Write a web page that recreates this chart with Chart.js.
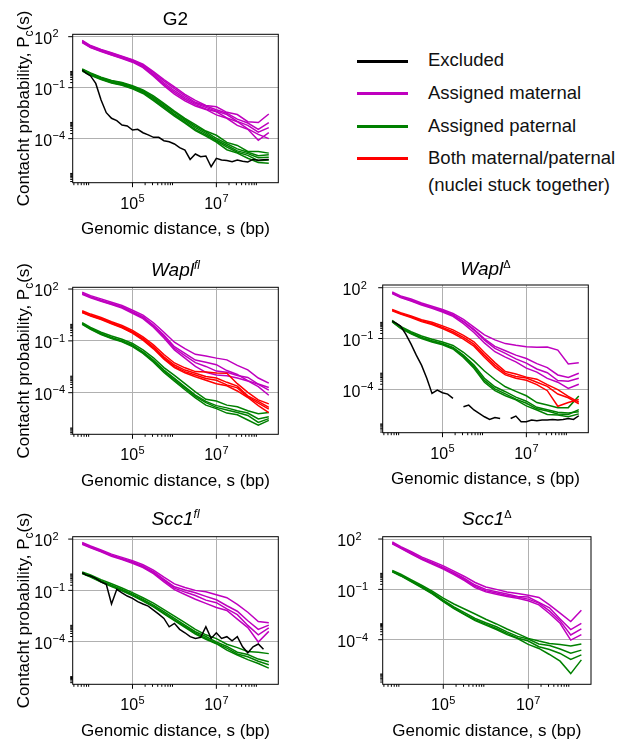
<!DOCTYPE html>
<html>
<head>
<meta charset="utf-8">
<title>Contact probability P(s)</title>
<script src="https://cdn.jsdelivr.net/npm/chart.js@4.4.1/dist/chart.umd.min.js"></script>
<style>
  body { margin: 0; background: #fff; font-family: "Liberation Sans", Arial, sans-serif; }
  #page { position: relative; width: 619px; height: 744px; overflow: hidden; }
  #page canvas { position: absolute; }
  .key { position: absolute; left: 357px; width: 51px; height: 3px; }
  .keytext { position: absolute; left: 428px; font-size: 18.5px; line-height: 20px; white-space: nowrap; color: #111; }
</style>
</head>
<body>
<div id="page">
  <canvas id="pG2" width="310" height="245" style="left:0px;top:0px"></canvas>
  <canvas id="pWaplFl" width="310" height="245" style="left:0px;top:250px"></canvas>
  <canvas id="pWaplD" width="309" height="245" style="left:310px;top:250px"></canvas>
  <canvas id="pScc1Fl" width="310" height="254" style="left:0px;top:490px"></canvas>
  <canvas id="pScc1D" width="309" height="254" style="left:310px;top:490px"></canvas>

  <div class="key" style="top:59.5px;background:#000000"></div>
  <div class="keytext" style="top:50.1px">Excluded</div>
  <div class="key" style="top:92.3px;background:#bf00bf"></div>
  <div class="keytext" style="top:82.9px">Assigned maternal</div>
  <div class="key" style="top:125.3px;background:#008000"></div>
  <div class="keytext" style="top:115.9px">Assigned paternal</div>
  <div class="key" style="top:157px;background:#ff0000"></div>
  <div class="keytext" style="top:147.6px">Both maternal/paternal</div>
  <div class="keytext" style="top:175.3px">(nuclei stuck together)</div>
</div>
<script>
// genomic distances s (bp) the curves were read at, quarter-decade steps
const distances = [6310, 10000, 17800, 31600, 56200, 100000, 178000, 316000, 562000,
  1000000, 1780000, 3160000, 5620000, 10000000, 17800000, 31600000, 56200000, 100000000, 178000000];
// the single "excluded" curves are noisier, read at eighth-decade steps
const distancesFine = [6310, 7940, 10000, 13300, 17800, 23700, 31600, 42200, 56200, 75000,
  100000, 133000, 178000, 237000, 316000, 422000, 562000, 750000,
  1000000, 1330000, 1780000, 2370000, 3160000, 4220000, 5620000, 7500000,
  10000000, 13300000, 17800000, 23700000, 31600000, 42200000, 56200000, 75000000,
  100000000, 133000000, 178000000];

// contact probability values, stored as log10 Pc(s)

// G2
const g2Excluded = [0.04, -0.16, -0.31, -0.75, -1.73, -2.47, -2.80, -2.94, -3.20, -3.25,
  -3.49, -3.45, -3.65, -3.78, -3.92, -3.92, -4.12, -4.18, -4.31, -4.53, -4.67, -5.22,
  -4.90, -5.06, -5.02, -5.65, -5.16, -5.25, -5.29, -5.35, -5.25, -5.33, -5.37, -5.22, -5.27, -5.24, -5.22];
const g2Maternal = [
  [1.78, 1.48, 1.25, 1.05, 0.85, 0.65, 0.38, -0.05, -0.52, -0.95, -1.40, -1.75, -2.05, -2.12, -2.45, -2.58, -3.00, -3.05, -2.55],
  [1.71, 1.41, 1.18, 0.98, 0.78, 0.57, 0.27, -0.20, -0.71, -1.18, -1.59, -1.92, -2.16, -2.38, -2.58, -2.98, -3.22, -3.62, -3.35],
  [1.65, 1.36, 1.12, 0.92, 0.72, 0.50, 0.18, -0.32, -0.88, -1.38, -1.78, -2.08, -2.28, -2.60, -2.80, -3.22, -3.45, -4.10, -3.65],
  [1.68, 1.38, 1.15, 0.94, 0.74, 0.53, 0.22, -0.27, -0.80, -1.28, -1.68, -2.00, -2.25, -2.42, -2.78, -3.00, -3.42, -3.75, -4.00],
  [1.75, 1.45, 1.22, 1.02, 0.82, 0.61, 0.32, -0.12, -0.60, -1.06, -1.48, -1.86, -2.08, -2.30, -2.50, -2.85, -3.08, -3.45, -3.05]
];
const g2Paternal = [
  [0.10, -0.13, -0.38, -0.57, -0.70, -0.89, -1.13, -1.48, -1.92, -2.38, -2.80, -3.18, -3.55, -3.80, -4.22, -4.40, -4.75, -4.75, -4.85],
  [0.04, -0.20, -0.45, -0.65, -0.78, -0.98, -1.24, -1.63, -2.08, -2.55, -2.94, -3.35, -3.69, -4.08, -4.40, -4.72, -4.88, -5.12, -5.10],
  [-0.02, -0.27, -0.52, -0.72, -0.86, -1.07, -1.34, -1.76, -2.22, -2.68, -3.08, -3.52, -3.85, -4.20, -4.65, -4.85, -5.15, -5.40, -5.45],
  [0.00, -0.24, -0.49, -0.69, -0.83, -1.03, -1.29, -1.70, -2.15, -2.62, -3.02, -3.45, -3.78, -4.15, -4.50, -4.80, -4.98, -5.30, -5.25],
  [0.07, -0.16, -0.41, -0.60, -0.73, -0.93, -1.18, -1.55, -2.00, -2.45, -2.86, -3.26, -3.60, -3.98, -4.30, -4.60, -4.80, -5.00, -4.95]
];

// Wapl fl
const waplFlMaternal = [
  [1.81, 1.62, 1.43, 1.24, 1.05, 0.77, 0.49, 0.05, -0.50, -1.08, -1.45, -1.78, -1.88, -2.00, -2.10, -2.42, -2.68, -3.15, -3.45],
  [1.75, 1.56, 1.36, 1.17, 0.98, 0.69, 0.40, -0.08, -0.66, -1.34, -1.73, -2.11, -2.24, -2.38, -2.72, -2.95, -3.30, -3.52, -3.85],
  [1.69, 1.50, 1.29, 1.10, 0.90, 0.60, 0.29, -0.21, -0.83, -1.52, -2.00, -2.48, -2.82, -2.98, -3.02, -3.15, -3.32, -3.65, -4.15],
  [1.72, 1.53, 1.32, 1.13, 0.94, 0.64, 0.34, -0.14, -0.74, -1.43, -1.86, -2.26, -2.48, -2.75, -2.82, -3.00, -3.12, -3.50, -3.70]
];
const waplFlBoth = [
  [0.74, 0.55, 0.35, 0.11, -0.11, -0.39, -0.77, -1.23, -1.79, -2.28, -2.56, -2.78, -2.80, -2.86, -2.88, -3.48, -3.98, -4.42, -4.65],
  [0.69, 0.49, 0.30, 0.05, -0.18, -0.47, -0.86, -1.34, -1.92, -2.40, -2.69, -2.88, -3.06, -3.15, -3.40, -3.62, -4.18, -4.50, -4.85],
  [0.64, 0.44, 0.24, -0.01, -0.25, -0.55, -0.96, -1.46, -2.06, -2.55, -2.85, -3.08, -3.28, -3.48, -3.60, -3.90, -4.28, -4.75, -5.15],
  [0.66, 0.46, 0.27, 0.02, -0.22, -0.52, -0.92, -1.41, -2.00, -2.49, -2.78, -2.98, -3.18, -3.28, -3.55, -3.72, -4.25, -4.60, -4.95]
];
const waplFlPaternal = [
  [0.06, -0.22, -0.50, -0.72, -0.91, -1.15, -1.52, -1.98, -2.55, -3.00, -3.48, -3.95, -4.38, -4.48, -4.72, -4.82, -5.05, -5.22, -5.15],
  [0.01, -0.28, -0.57, -0.80, -0.99, -1.24, -1.63, -2.11, -2.69, -3.17, -3.66, -4.14, -4.50, -4.75, -4.88, -5.05, -5.18, -5.52, -5.39],
  [-0.04, -0.33, -0.63, -0.87, -1.06, -1.33, -1.73, -2.23, -2.83, -3.33, -3.83, -4.30, -4.72, -4.92, -5.18, -5.28, -5.58, -5.88, -5.60],
  [-0.02, -0.31, -0.60, -0.84, -1.03, -1.29, -1.68, -2.17, -2.76, -3.25, -3.74, -4.22, -4.58, -4.85, -5.00, -5.15, -5.32, -5.72, -5.50]
];

// Wapl delta
const waplDExcluded = [0.03, -0.11, -0.26, -0.74, -1.33, -1.98, -2.57, -3.35, -4.24, -4.04,
  -4.20, -4.28, -4.53, null, -5.03, -4.93, -5.22, -5.42, -5.62, -5.78, -5.66, -5.72,
  null, -5.72, -5.58, -5.91, -5.91, -5.81, -5.85, -5.81, -5.81, -5.78, -5.81, -5.78, -5.72, -5.78, -5.56];
const waplDMaternal = [
  [1.75, 1.52, 1.33, 1.10, 0.91, 0.71, 0.48, 0.13, -0.32, -0.78, -1.08, -1.30, -1.40, -1.48, -1.52, -1.50, -1.68, -2.50, -2.43],
  [1.70, 1.47, 1.27, 1.04, 0.84, 0.64, 0.39, -0.01, -0.50, -1.09, -1.58, -1.88, -2.20, -2.45, -2.80, -3.02, -3.48, -3.52, -3.35],
  [1.65, 1.42, 1.21, 0.98, 0.78, 0.57, 0.31, -0.12, -0.64, -1.26, -1.78, -2.10, -2.38, -2.75, -2.98, -3.35, -3.58, -3.95, -3.70],
  [1.68, 1.45, 1.25, 1.02, 0.83, 0.63, 0.39, 0.01, -0.46, -1.02, -1.46, -1.72, -1.98, -2.18, -2.48, -2.72, -3.15, -3.30, -3.05]
];
const waplDBoth = [
  [0.72, 0.53, 0.34, 0.11, -0.04, -0.25, -0.49, -0.81, -1.19, -1.82, -2.42, -2.95, -3.10, -3.28, -3.40, -3.72, -4.02, -4.42, -4.75],
  [0.68, 0.48, 0.29, 0.05, -0.11, -0.34, -0.60, -0.93, -1.33, -1.98, -2.57, -3.06, -3.24, -3.33, -3.58, -3.82, -4.28, -4.50, -4.85],
  [0.64, 0.44, 0.24, 0.00, -0.17, -0.41, -0.69, -1.03, -1.45, -2.11, -2.70, -3.15, -3.35, -3.46, -3.72, -4.08, -5.00, -4.78, -4.60]
];
const waplDPaternal = [
  [0.08, -0.28, -0.59, -0.85, -1.04, -1.20, -1.41, -1.81, -2.32, -2.92, -3.42, -3.85, -4.12, -4.38, -4.78, -4.92, -5.08, -5.08, -4.40],
  [0.03, -0.34, -0.66, -0.93, -1.13, -1.29, -1.52, -1.98, -2.57, -3.35, -3.85, -4.14, -4.46, -4.70, -5.06, -5.20, -5.35, -5.40, -5.32],
  [-0.02, -0.40, -0.72, -1.00, -1.20, -1.37, -1.62, -2.12, -2.76, -3.58, -4.08, -4.38, -4.62, -4.98, -5.22, -5.48, -5.52, -5.62, -5.45],
  [0.00, -0.37, -0.69, -0.96, -1.16, -1.33, -1.57, -2.04, -2.67, -3.47, -3.97, -4.27, -4.58, -4.82, -5.15, -5.28, -5.45, -5.48, -5.20]
];

// Scc1 fl
const scc1FlExcluded = [0.03, -0.11, -0.16, -0.30, -0.50, -0.65, -1.80, -0.94, -1.14, -1.33,
  -1.47, -1.66, -1.80, -1.92, -2.15, -2.39, -2.64, -3.13, -2.93, -3.28, -3.48, -3.71,
  -3.81, -3.75, -3.13, -3.81, -3.48, -3.81, -3.71, -3.95, -3.71, -4.30, -4.65, -4.30, -4.14, -4.45, null];
const scc1FlMaternal = [
  [1.80, 1.60, 1.37, 1.12, 0.93, 0.74, 0.50, 0.19, -0.23, -0.62, -0.83, -1.00, -1.08, -1.26, -1.43, -1.82, -2.28, -2.82, -2.90],
  [1.75, 1.55, 1.32, 1.06, 0.87, 0.67, 0.42, 0.09, -0.36, -0.79, -0.98, -1.14, -1.35, -1.55, -1.90, -2.22, -2.78, -3.28, -3.03],
  [1.69, 1.49, 1.26, 0.99, 0.80, 0.59, 0.33, -0.02, -0.50, -0.96, -1.24, -1.52, -1.76, -2.00, -2.18, -2.68, -3.18, -4.02, -3.40],
  [1.72, 1.52, 1.29, 1.03, 0.83, 0.63, 0.38, 0.03, -0.42, -0.87, -1.10, -1.30, -1.57, -1.72, -2.08, -2.42, -3.05, -3.60, -3.20]
];
const scc1FlPaternal = [
  [0.08, -0.10, -0.37, -0.61, -0.86, -1.13, -1.43, -1.75, -2.13, -2.51, -2.89, -3.28, -3.60, -3.82, -4.15, -4.35, -4.58, -4.62, -4.70],
  [0.03, -0.16, -0.44, -0.69, -0.94, -1.22, -1.53, -1.86, -2.25, -2.64, -3.03, -3.42, -3.70, -4.02, -4.28, -4.62, -4.75, -5.02, -5.17],
  [-0.02, -0.22, -0.51, -0.77, -1.02, -1.31, -1.63, -1.97, -2.37, -2.77, -3.17, -3.56, -3.86, -4.12, -4.50, -4.78, -5.05, -5.28, -5.55],
  [0.00, -0.19, -0.48, -0.74, -0.99, -1.28, -1.59, -1.93, -2.33, -2.72, -3.11, -3.50, -3.80, -4.10, -4.38, -4.72, -4.88, -5.15, -5.35]
];

// Scc1 delta
const scc1DMaternal = [
  [1.83, 1.55, 1.24, 0.92, 0.67, 0.40, 0.09, -0.23, -0.59, -0.86, -1.00, -1.15, -1.24, -1.35, -1.48, -1.92, -2.42, -2.92, -2.25],
  [1.78, 1.50, 1.18, 0.85, 0.59, 0.31, -0.01, -0.35, -0.74, -1.00, -1.14, -1.28, -1.42, -1.46, -1.77, -2.10, -2.76, -3.40, -3.03],
  [1.72, 1.44, 1.11, 0.77, 0.50, 0.21, -0.12, -0.48, -0.90, -1.15, -1.29, -1.42, -1.53, -1.68, -1.92, -2.44, -3.02, -4.02, -3.70],
  [1.75, 1.47, 1.14, 0.81, 0.55, 0.26, -0.06, -0.42, -0.82, -1.08, -1.22, -1.36, -1.46, -1.58, -1.82, -2.28, -2.88, -3.72, -3.35]
];
const scc1DPaternal = [
  [0.13, -0.10, -0.43, -0.77, -1.12, -1.52, -1.87, -2.17, -2.47, -2.78, -3.06, -3.36, -3.64, -3.92, -4.08, -4.22, -4.28, -4.38, -4.25],
  [0.09, -0.15, -0.49, -0.84, -1.20, -1.64, -2.04, -2.39, -2.73, -2.99, -3.23, -3.53, -3.80, -3.96, -4.25, -4.35, -4.55, -4.80, -4.62],
  [0.04, -0.20, -0.55, -0.91, -1.28, -1.73, -2.15, -2.51, -2.86, -3.13, -3.39, -3.70, -3.93, -4.28, -4.52, -4.88, -5.28, -6.02, -5.20],
  [0.06, -0.18, -0.52, -0.88, -1.25, -1.70, -2.11, -2.47, -2.81, -3.07, -3.33, -3.62, -3.90, -4.08, -4.42, -4.58, -4.82, -5.18, -4.90]
];

// axis ticks
const xMajorTicks = [1e5, 1e7];
const xTickLabels = [['10', '5'], ['10', '7']];
const xMinorTicks = [2e3, 3e3, 4e3, 5e3, 6e3, 7e3, 8e3, 9e3,
  2e5, 3e5, 4e5, 5e5, 6e5, 7e5, 8e5, 9e5,
  2e7, 3e7, 4e7, 5e7, 6e7, 7e7, 8e7, 9e7];
const yMajorTicks = [1e-4, 1e-1, 1e2];
const yTickLabels = [['10', '\u22124'], ['10', '\u22121'], ['10', '2']];
const yMinorTicks = [2e-7, 3e-7, 4e-7, 5e-7, 6e-7, 7e-7, 8e-7, 9e-7,
  2e-4, 3e-4, 4e-4, 5e-4, 6e-4, 7e-4, 8e-4, 9e-4,
  0.2, 0.3, 0.4, 0.5, 0.6, 0.7, 0.8, 0.9];

const colors = { excluded: '#000000', maternal: '#bf00bf', paternal: '#008000', both: '#ff0000' };
const FONT = '"Liberation Sans", Arial, Helvetica, sans-serif';

function curve(xs, logs, color) {
  return {
    data: xs.map((x, i) => ({ x: x, y: logs[i] === null ? null : Math.pow(10, logs[i]) })),
    borderColor: color,
    borderWidth: 1.5,
    pointRadius: 0,
    tension: 0,
    fill: false
  };
}
function group(lines, color) {
  return lines.map(l => curve(distances, l, color));
}

function font(size, italic) {
  return (italic ? 'italic ' : '') + size + 'px ' + FONT;
}

// draws "10" with a raised exponent
function power(ctx, base, exp, x, y, centered) {
  ctx.font = font(16);
  const w1 = ctx.measureText(base).width;
  ctx.font = font(11);
  const w2 = ctx.measureText(exp).width;
  const x0 = centered ? x - (w1 + w2 + 0.5) / 2 : x;
  ctx.font = font(16);
  ctx.fillText(base, x0, y);
  ctx.font = font(11);
  ctx.fillText(exp, x0 + w1 + 0.5, y - 6.5);
}

// text made of parts with optional super/subscript, centred on x
function parts(ctx, list, x, y) {
  let total = 0;
  list.forEach(p => { ctx.font = font(p.size, p.italic); p.w = ctx.measureText(p.t).width; total += p.w; });
  let cx = x - total / 2;
  list.forEach(p => {
    ctx.font = font(p.size, p.italic);
    ctx.fillText(p.t, cx, y - (p.dy || 0));
    cx += p.w;
  });
}

// frame, ticks and all text of a panel
function decor(p) {
  return {
    id: 'decor',
    afterDraw(chart) {
      const ctx = chart.ctx, a = chart.chartArea;
      const xs = chart.scales.x, ys = chart.scales.y;
      ctx.save();
      ctx.strokeStyle = '#000';
      ctx.fillStyle = '#000';
      ctx.lineWidth = 1;
      ctx.strokeRect(a.left, a.top, a.right - a.left, a.bottom - a.top);

      ctx.beginPath();
      xMajorTicks.forEach(v => {
        const px = xs.getPixelForValue(v);
        ctx.moveTo(px, a.bottom); ctx.lineTo(px, a.bottom + 4.5);
      });
      xMinorTicks.forEach(v => {
        if (v <= xs.min || v >= xs.max) return;
        const px = xs.getPixelForValue(v);
        ctx.moveTo(px, a.bottom); ctx.lineTo(px, a.bottom + 2.5);
      });
      yMajorTicks.forEach(v => {
        const py = ys.getPixelForValue(v);
        ctx.moveTo(a.left, py); ctx.lineTo(a.left - 4.5, py);
      });
      yMinorTicks.forEach(v => {
        if (v <= ys.min || v >= ys.max) return;
        const py = ys.getPixelForValue(v);
        ctx.moveTo(a.left, py); ctx.lineTo(a.left - 2.5, py);
      });
      ctx.stroke();

      ctx.textAlign = 'left';
      ctx.textBaseline = 'alphabetic';
      xMajorTicks.forEach((v, i) => {
        power(ctx, xTickLabels[i][0], xTickLabels[i][1], xs.getPixelForValue(v), a.bottom + 26, true);
      });
      yMajorTicks.forEach((v, i) => {
        power(ctx, yTickLabels[i][0], yTickLabels[i][1], p.yTickX, ys.getPixelForValue(v) + 7.3, false);
      });

      const cx = (a.left + a.right) / 2;
      parts(ctx, [{ t: 'Genomic distance, s (bp)', size: 17 }], cx, a.bottom + 51.5);
      parts(ctx, p.title, cx, p.titleY);

      if (p.yLabel) {
        ctx.save();
        ctx.translate(29, (a.top + a.bottom) / 2);
        ctx.rotate(-Math.PI / 2);
        parts(ctx, [
          { t: 'Contacht probability, P', size: 17 },
          { t: 'c', size: 12, dy: -4 },
          { t: '(s)', size: 17 }
        ], 0, 0);
        ctx.restore();
      }
      ctx.restore();
    }
  };
}

const panels = [
  {
    id: 'pG2', yMin: 2.57e-7, yMax: 138, yLabel: true, yTickX: 34.3, titleY: 25,
    pad: { left: 72.7, top: 34.3, right: 31.7, bottom: 62.3 },
    title: [{ t: 'G2', size: 19 }],
    datasets: [curve(distancesFine, g2Excluded, colors.excluded)]
      .concat(group(g2Paternal, colors.paternal), group(g2Maternal, colors.maternal))
  },
  {
    id: 'pWaplFl', yMin: 3.9e-7, yMax: 126, yLabel: true, yTickX: 34.3, titleY: 26,
    pad: { left: 72.7, top: 37.3, right: 31.7, bottom: 60.7 },
    title: [{ t: 'Wapl', size: 19, italic: true }, { t: 'fl', size: 12, italic: true, dy: 7 }],
    datasets: group(waplFlBoth, colors.both)
      .concat(group(waplFlPaternal, colors.paternal), group(waplFlMaternal, colors.maternal))
  },
  {
    id: 'pWaplD', yMin: 2.75e-7, yMax: 145, yLabel: false, yTickX: 32.5, titleY: 25,
    pad: { left: 72.7, top: 35, right: 30.7, bottom: 62.3 },
    title: [{ t: 'Wapl', size: 19, italic: true }, { t: '\u0394', size: 11, dy: 7 }],
    datasets: [curve(distancesFine, waplDExcluded, colors.excluded)]
      .concat(group(waplDBoth, colors.both), group(waplDPaternal, colors.paternal), group(waplDMaternal, colors.maternal))
  },
  {
    id: 'pScc1Fl', yMin: 3.2e-7, yMax: 138, yLabel: true, yTickX: 34.3, titleY: 35,
    pad: { left: 72.7, top: 46.7, right: 31.7, bottom: 59.7 },
    title: [{ t: 'Scc1', size: 19, italic: true }, { t: 'fl', size: 12, italic: true, dy: 7 }],
    datasets: [curve(distancesFine, scc1FlExcluded, colors.excluded)]
      .concat(group(scc1FlPaternal, colors.paternal), group(scc1FlMaternal, colors.maternal))
  },
  {
    id: 'pScc1D', yMin: 2.2e-7, yMax: 138, yLabel: false, yTickX: 27.3, titleY: 35,
    pad: { left: 72.7, top: 46.7, right: 28, bottom: 59.7 },
    title: [{ t: 'Scc1', size: 19, italic: true }, { t: '\u0394', size: 11, dy: 7 }],
    datasets: group(scc1DPaternal, colors.paternal).concat(group(scc1DMaternal, colors.maternal))
  }
];

panels.forEach(p => {
  new Chart(document.getElementById(p.id), {
    type: 'line',
    data: { datasets: p.datasets },
    options: {
      responsive: false,
      animation: false,
      devicePixelRatio: 1,
      events: [],
      layout: { padding: p.pad },
      plugins: { legend: { display: false }, tooltip: { enabled: false } },
      scales: {
        x: {
          type: 'logarithmic', min: 3750, max: 3.0e8,
          afterBuildTicks: s => { s.ticks = xMajorTicks.map(v => ({ value: v })); },
          ticks: { display: false },
          border: { display: false },
          grid: { color: '#b0b0b0', lineWidth: 1, drawTicks: false }
        },
        y: {
          type: 'logarithmic', min: p.yMin, max: p.yMax,
          afterBuildTicks: s => { s.ticks = yMajorTicks.map(v => ({ value: v })); },
          ticks: { display: false },
          border: { display: false },
          grid: { color: '#b0b0b0', lineWidth: 1, drawTicks: false }
        }
      }
    },
    plugins: [decor(p)]
  });
});
</script>
</body>
</html>
